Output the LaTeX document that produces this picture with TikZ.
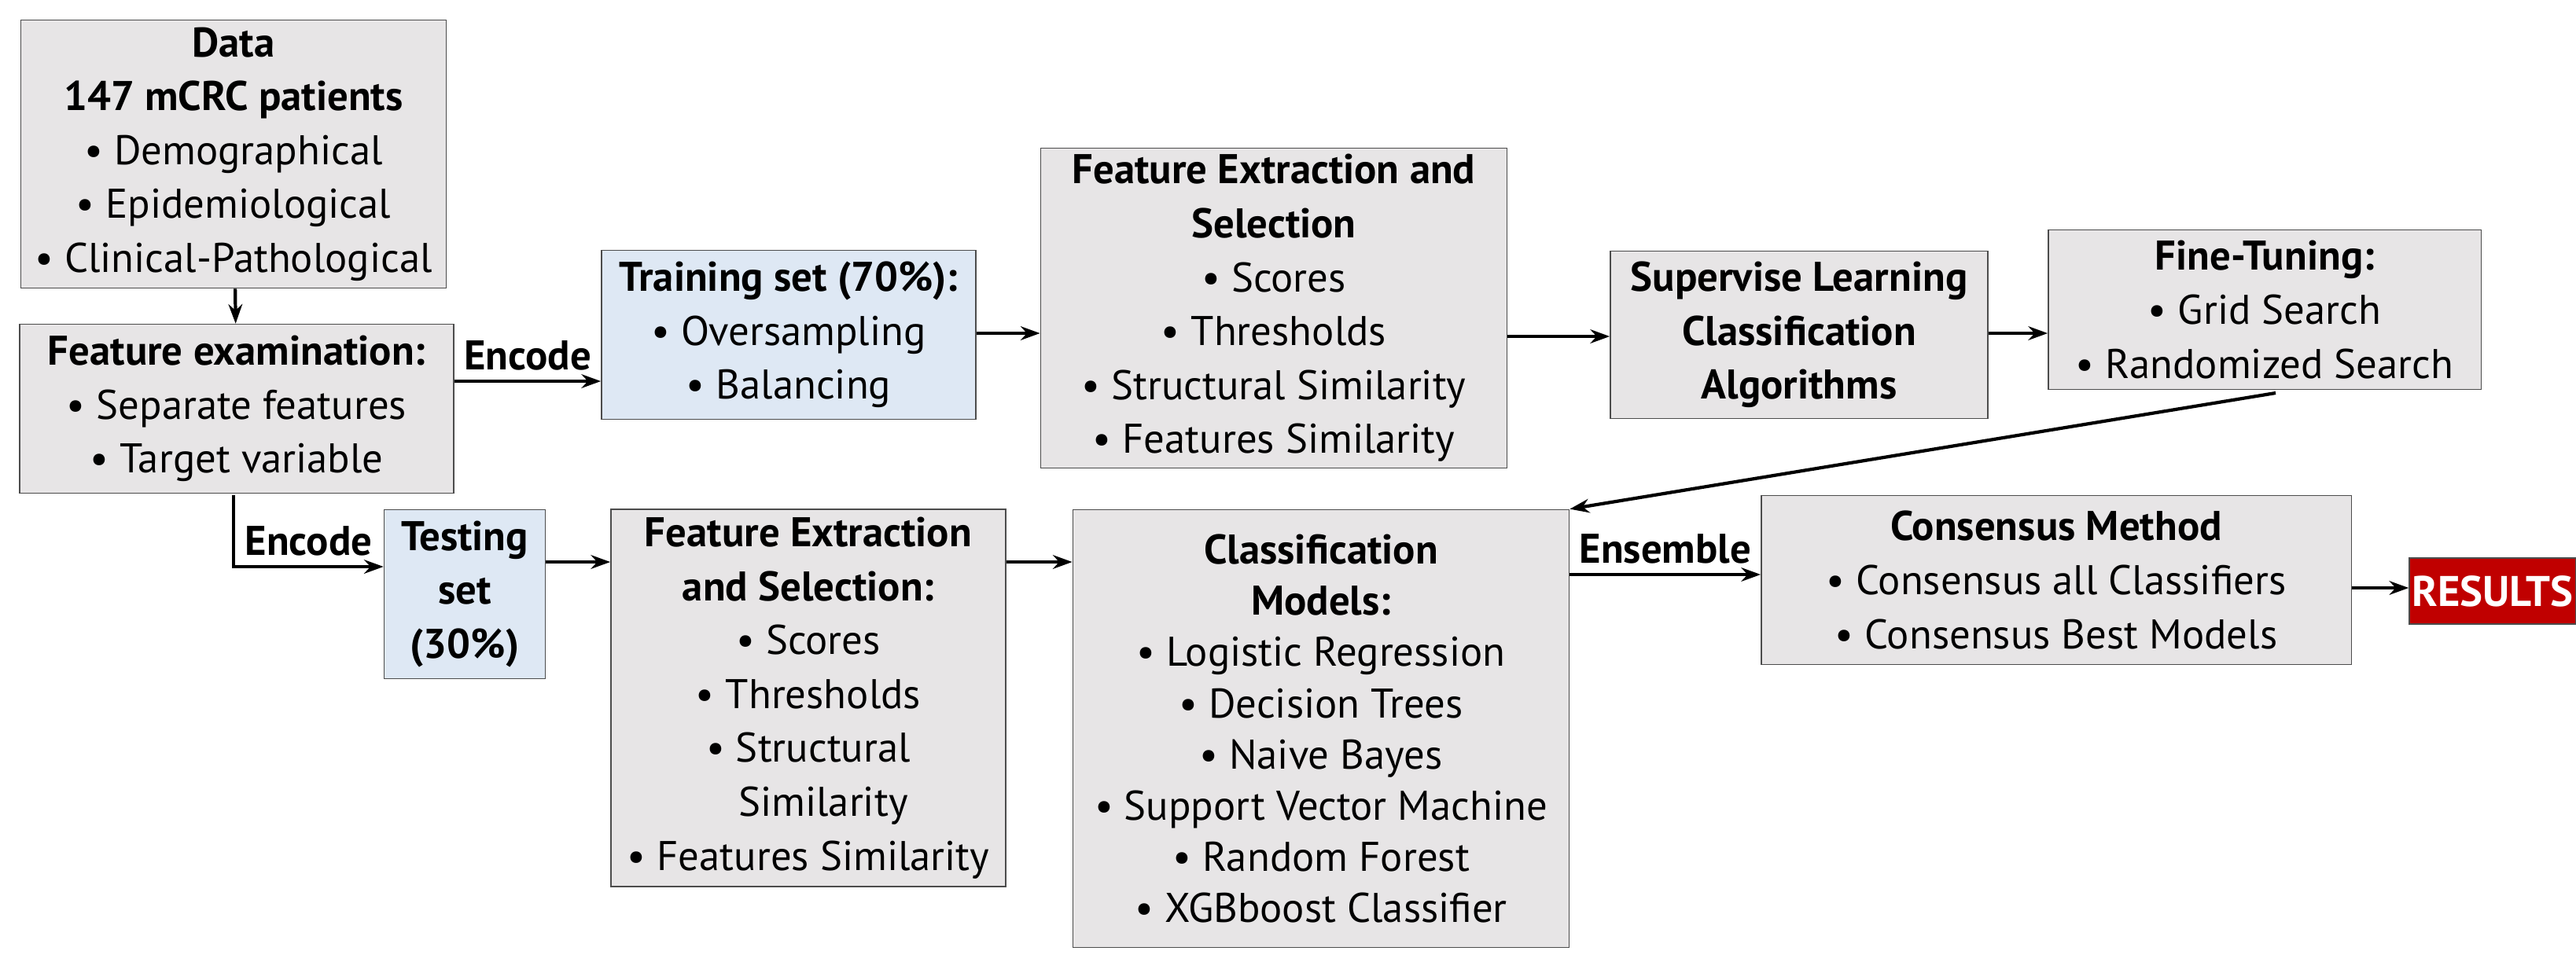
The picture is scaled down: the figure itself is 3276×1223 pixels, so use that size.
\documentclass[tikz,border=0pt]{standalone}
\usepackage{fontspec}
\setmainfont{PT Sans}
\usetikzlibrary{positioning,arrows.meta}
\definecolor{boxgray}{HTML}{E7E5E6}
\definecolor{boxblue}{HTML}{DEE8F4}
\definecolor{resred}{HTML}{C00000}
\tikzset{
  box/.style={draw=black!70, fill=boxgray, align=center, inner sep=2pt,
    font=\fontsize{15}{19.5}\selectfont},
  setbox/.style={box, fill=boxblue},
  flow/.style={-{Stealth[length=7pt,width=5pt]}, line width=1.2pt},
  lbl/.style={font=\fontsize{15}{18}\selectfont\bfseries}
}
\newcommand{\bl}{\textbullet\ }
\begin{document}
\begin{tikzpicture}[x=0.01cm,y=-0.01cm]
\useasboundingbox (0,0) rectangle (3276,1223);
% first row
\node[box, minimum width=5.41cm, minimum height=3.41cm] (data) at (297,196)
  {\textbf{Data}\\ \textbf{147 mCRC patients}\\ \bl Demographical\\ \bl Epidemiological\\ \bl Clinical-Pathological};
\node[box, minimum width=5.52cm, minimum height=2.15cm] (exam) at (301,520)
  {\textbf{Feature examination:}\\ \bl Separate features\\ \bl Target variable};
\node[setbox, minimum width=4.76cm, minimum height=2.15cm] (train) at (1003,426)
  {\textbf{Training set (70\%):}\\ \bl Oversampling\\ \bl Balancing};
\node[box, minimum width=5.93cm, minimum height=4.07cm] (fextr) at (1620,392)
  {\textbf{Feature Extraction and}\\ \textbf{Selection}\\ \bl Scores\\ \bl Thresholds\\ \bl Structural Similarity\\ \bl Features Similarity};
\node[box, minimum width=4.80cm, minimum height=2.13cm] (superv) at (2288,426)
  {\textbf{Supervise Learning}\\ \textbf{Classification}\\ \textbf{Algorithms}};
\node[box, minimum width=5.50cm, minimum height=2.03cm] (tune) at (2880,394)
  {\textbf{Fine-Tuning:}\\ \bl Grid Search\\ \bl Randomized Search};
% second row
\node[setbox, minimum width=2.05cm, minimum height=2.15cm] (test) at (591,756)
  {\textbf{Testing}\\ \textbf{set}\\ \textbf{(30\%)}};
\node[box, minimum width=5.02cm, minimum height=4.80cm] (fexte) at (1028,888)
  {\textbf{Feature Extraction}\\ \textbf{and Selection:}\\ \bl Scores\\ \bl Thresholds\\ \bl Structural\\ \phantom{\bl}Similarity\\ \bl Features Similarity};
\node[box, minimum width=6.31cm, minimum height=5.57cm, font=\fontsize{15}{18.5}\selectfont] (models) at (1680,927)
  {\textbf{Classification}\\ \textbf{Models:}\\ \bl Logistic Regression\\ \bl Decision Trees\\ \bl Naive Bayes\\ \bl Support Vector Machine\\ \bl Random Forest\\ \bl XGBboost Classifier};
\node[box, minimum width=7.50cm, minimum height=2.15cm] (cons) at (2615,738)
  {\textbf{Consensus Method}\\ \bl Consensus all Classifiers\\ \bl Consensus Best Models};
\node[draw=black!70, fill=resred, text=white, minimum width=1.84cm, minimum height=0.84cm,
  inner sep=1pt, font=\fontsize{15.5}{18}\selectfont\bfseries] (res) at (3170,752) {RESULTS};
% connectors
\draw[flow] (data) -- (exam);
\draw[flow] (exam.east |- 0,485) -- node[lbl, above] {Encode} (train.west |- 0,485);
\draw[flow] (train.east |- 0,424) -- (fextr.west |- 0,424);
\draw[flow] (fextr.east |- 0,428) -- (superv.west |- 0,428);
\draw[flow] (superv.east |- 0,424) -- (tune.west |- 0,424);
\coordinate (tunefoot) at (2894,500);
\draw[flow] (tunefoot) -- (models.north east);
\draw[flow] (297,630) |- node[lbl, above, pos=0.75] {Encode} (test.west |- 0,721);
\draw[flow] (test.east |- 0,715) -- (fexte.west |- 0,715);
\draw[flow] (fexte.east |- 0,715) -- (models.west |- 0,715);
\draw[flow] (models.east |- 0,731) -- node[lbl, above] {Ensemble} (cons.west |- 0,731);
\draw[flow] (cons.east |- 0,748) -- (res.west |- 0,748);
\end{tikzpicture}
\end{document}
